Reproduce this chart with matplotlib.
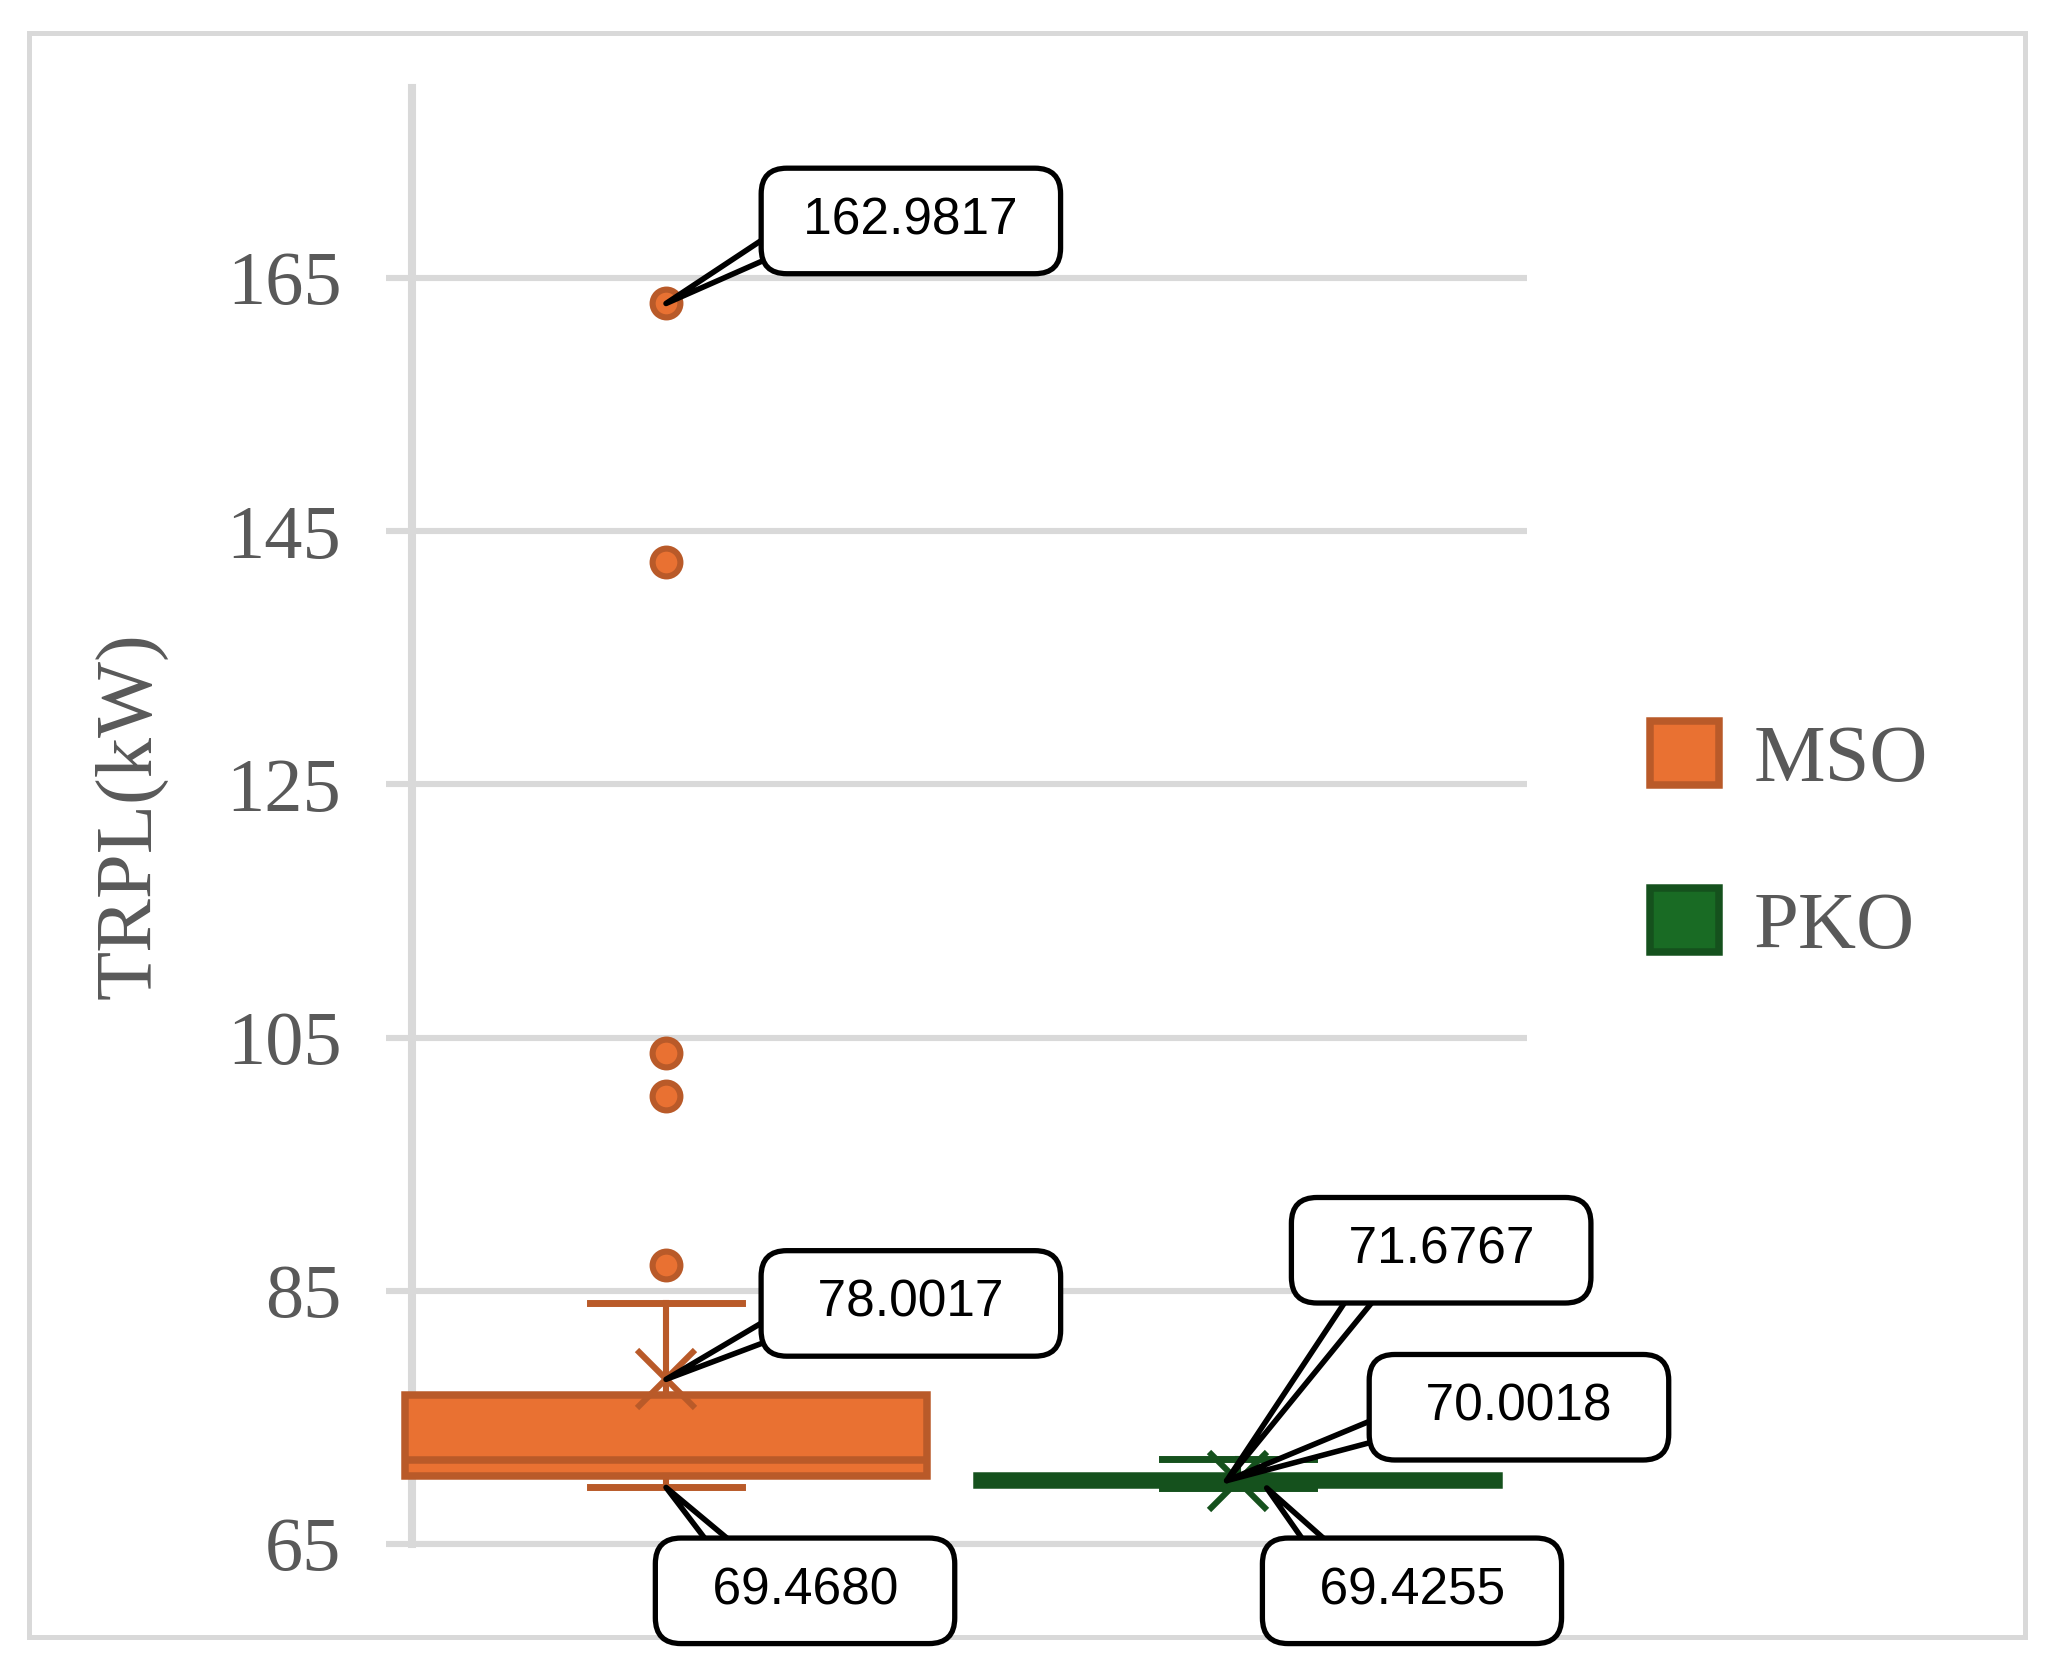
import matplotlib
matplotlib.use('Agg')
import matplotlib.pyplot as plt
from matplotlib.patches import Patch, Rectangle

# data
groups = ['MSO', 'PKO']
fills = ['#E97132', '#196B24']
edges = ['#B95A29', '#15511D']
whislo = [69.4680, 69.4255]
q1 = [70.4, 69.65]
med = [71.6, 70.0]
q3 = [76.8, 70.35]
whishi = [84.0, 71.6767]
means = [78.0017, 70.0018]
fliers = [[87.0, 100.4, 103.8, 142.6, 162.9817], []]
yticks = [65, 85, 105, 125, 145, 165]

grey = '#595959'
light = '#D9D9D9'
serif = ['Liberation Serif', 'DejaVu Serif']
sans = ['Liberation Sans', 'DejaVu Sans']

fig = plt.figure(figsize=(10.255, 8.335), dpi=200)
ax = fig.add_axes([0.2009, 0.0738, 0.5436, 0.8734])

for i in range(len(groups)):
    st = [dict(label=groups[i], whislo=whislo[i], q1=q1[i], med=med[i], q3=q3[i],
               whishi=whishi[i], mean=means[i], fliers=fliers[i])]
    art = ax.bxp(st, positions=[i], widths=0.913, capwidths=0.267, patch_artist=True,
                 showmeans=True, zorder=3,
                 boxprops=dict(facecolor=fills[i], edgecolor=edges[i], linewidth=2.7),
                 medianprops=dict(color=edges[i], linewidth=2.7),
                 whiskerprops=dict(color=edges[i], linewidth=2.2),
                 capprops=dict(color=edges[i], linewidth=2.5),
                 meanprops=dict(marker='x', markeredgecolor=edges[i], markersize=21,
                                markeredgewidth=2.2),
                 flierprops=dict(marker='o', markerfacecolor=fills[i], markeredgecolor=edges[i],
                                 markersize=10, markeredgewidth=2.2))
    for k in art:
        for a in art[k]:
            a.set_clip_on(False)

ax.set_xlim(-0.444, 1.505)
ax.set_ylim(65, 180)
ax.set_yticks(yticks)
ax.set_xticks([])
ax.yaxis.grid(True, color=light, linewidth=2.2)
ax.set_axisbelow(True)
for s in ['top', 'right']:
    ax.spines[s].set_visible(False)
ax.spines['left'].set_color(light)
ax.spines['left'].set_linewidth(2.9)
ax.spines['bottom'].set_color(light)
ax.spines['bottom'].set_linewidth(2.2)
ax.tick_params(axis='y', length=9.4, width=2.2, color=light, labelsize=27.5,
               labelcolor=grey, pad=16)
for t in ax.get_yticklabels():
    t.set_family(serif)
ax.set_ylabel('TRPL(kW)', fontsize=29, color=grey, family=serif)
ax.yaxis.set_label_coords(-0.219, 0.5)

# callout labels: (x, y of point, text, text centre, wedge start)
calls = [
    (0, fliers[0][-1], ' %.4f ' % fliers[0][-1], (0.428, 169.5), (0.04, 0.3)),
    (0, means[0], '  %.4f  ' % means[0], (0.428, 84.0), (0.04, 0.25)),
    (0, whislo[0], '  %.4f  ' % whislo[0], (0.243, 61.3), (0.25, 0.94)),
    (0.98, means[1], '  %.4f  ' % whishi[1], (1.355, 88.2), (0.25, 0.06)),
    (0.98, means[1], '  %.4f  ' % means[1], (1.491, 75.8), (0.04, 0.25)),
    (1.05, whislo[1], '  %.4f  ' % whislo[1], (1.304, 61.3), (0.2, 0.94)),
]
for x, y, txt, xt, rp in calls:
    ax.annotate(txt, xy=(x, y), xytext=xt, textcoords='data', ha='center', va='center',
                fontsize=18.5, family=sans, color='black', annotation_clip=False, zorder=6,
                bbox=dict(boxstyle='round,pad=0.55,rounding_size=0.5', fc='white', ec='black', lw=1.9),
                arrowprops=dict(arrowstyle='wedge,tail_width=0.5,shrink_factor=0.5',
                                fc='white', ec='black', lw=2.0, relpos=rp, patchA=None,
                                shrinkA=0, shrinkB=0))

handles = [Patch(facecolor=fills[i], edgecolor=edges[i], linewidth=2.7, label=groups[i])
           for i in range(len(groups))]
fig.legend(handles=handles, loc='center left', bbox_to_anchor=(0.8045, 0.4945), frameon=False,
           prop=dict(family=serif, size=29), labelcolor=grey, handlelength=0.85,
           handleheight=0.85, handletextpad=0.43, labelspacing=1.12, borderpad=0,
           borderaxespad=0)

fig.add_artist(Rectangle((0.0141, 0.018), 0.9732, 0.962, transform=fig.transFigure,
                         fill=False, ec=light, lw=1.8, zorder=-1))

fig.savefig('out.png', dpi=200)
